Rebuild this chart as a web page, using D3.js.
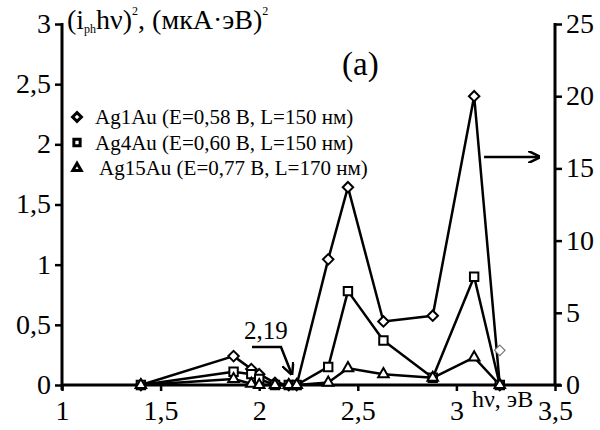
<!DOCTYPE html>
<html>
<head>
<meta charset="utf-8">
<script src="https://cdn.jsdelivr.net/npm/d3@7"></script>
<style>
  html, body { margin: 0; padding: 0; background: #fff; }
  svg { display: block; }
  text { font-family: "Liberation Serif", "Times New Roman", serif; fill: #000; }
</style>
</head>
<body>
<svg id="chart" width="600" height="430"></svg>
<script>
// Photon energy, eV (shared by all samples)
const energy = [1.40, 1.87, 1.96, 2.00, 2.08, 2.15, 2.19, 2.35, 2.45, 2.63, 2.88, 3.09, 3.22];

// Ag1Au, read on the right axis
const ag1Au = [0, 2.0, 1.1, 0.75, 0.15, 0, 0, 8.7, 13.7, 4.4, 4.8, 20.0, 0];
// Ag4Au and Ag15Au, read on the left axis
const ag4Au = [0, 0.11, 0.09, 0.05, 0, 0, 0, 0.15, 0.78, 0.37, 0.06, 0.90, 0];
const ag15Au = [0, 0.05, 0.01, 0, 0, 0, 0, 0.02, 0.14, 0.09, 0.06, 0.23, 0];
// lone Ag1Au marker at the high-energy end
const ag1AuExtra = [[3.22, 2.4]];

const legendLabels = [
  "Ag1Au (E=0,58 В, L=150 нм)",
  "Ag4Au (E=0,60 В, L=150 нм)",
  "Ag15Au (E=0,77 В, L=170 нм)"
];

const xTicks = [1, 1.5, 2, 2.5, 3, 3.5];
const yLeftTicks = [0, 0.5, 1, 1.5, 2, 2.5, 3];
const yRightTicks = [0, 5, 10, 15, 20, 25];

const svg = d3.select("#chart");
const mLeft = 62, mRight = 555, mTop = 24, mBottom = 385;

const x = d3.scaleLinear().domain([1, 3.5]).range([mLeft, mRight]);
const yL = d3.scaleLinear().domain([0, 3]).range([mBottom, mTop]);
const yR = d3.scaleLinear().domain([0, 25]).range([mBottom, mTop]);

const loc = d3.formatLocale({ decimal: ",", thousands: " ", grouping: [3], currency: ["", ""] });
const fmt = loc.format(".1~f");

function styleAxis(g, fontSize) {
  g.select(".domain").remove();
  g.selectAll(".tick line").attr("stroke", "#000").attr("stroke-width", 2.5);
  g.selectAll("text")
    .style("font-size", fontSize + "px")
    .style("font-family", '"Liberation Serif", serif');
}

// axis lines
svg.append("line").attr("x1", mLeft).attr("x2", mLeft).attr("y1", mTop - 1).attr("y2", mBottom + 5)
  .attr("stroke", "#000").attr("stroke-width", 3);
svg.append("line").attr("x1", mRight).attr("x2", mRight).attr("y1", mTop - 1).attr("y2", mBottom + 1)
  .attr("stroke", "#000").attr("stroke-width", 3);
svg.append("line").attr("x1", mLeft).attr("x2", mRight + 6).attr("y1", mBottom).attr("y2", mBottom)
  .attr("stroke", "#000").attr("stroke-width", 3);

const gx = svg.append("g").attr("transform", `translate(0,${mBottom})`)
  .call(d3.axisBottom(x).tickValues(xTicks).tickFormat(fmt).tickSize(6).tickPadding(6));
styleAxis(gx, 28);
gx.selectAll("text").attr("y", 35).attr("dy", null);

const gyl = svg.append("g").attr("transform", `translate(${mLeft},0)`)
  .call(d3.axisLeft(yL).tickValues(yLeftTicks).tickFormat(fmt).tickSize(7).tickPadding(4));
styleAxis(gyl, 28);
gyl.selectAll("text").attr("dy", "0.3em");

const gyr = svg.append("g").attr("transform", `translate(${mRight},0)`)
  .call(d3.axisRight(yR).tickValues(yRightTicks).tickFormat(fmt).tickSize(7).tickPadding(4));
styleAxis(gyr, 28);
gyr.selectAll("text").attr("dy", "0.3em");

// series
const series = [
  { name: "Ag1Au", y: yR, values: ag1Au, symbol: d3.symbolDiamond2, size: 70 },
  { name: "Ag4Au", y: yL, values: ag4Au, symbol: d3.symbolSquare2, size: 90 },
  { name: "Ag15Au", y: yL, values: ag15Au, symbol: d3.symbolTriangle2, size: 80 }
];

const line = d3.line();
series.forEach(s => {
  svg.append("path")
    .attr("d", line(energy.map((e, i) => [x(e), s.y(s.values[i])])))
    .attr("fill", "none").attr("stroke", "#000").attr("stroke-width", 2.5)
    .attr("stroke-linejoin", "round");
});

series.forEach(s => {
  svg.append("g").selectAll("path")
    .data(energy.map((e, i) => [e, s.values[i]]))
    .join("path")
    .attr("transform", d => `translate(${x(d[0])},${s.y(d[1])})`)
    .attr("d", d3.symbol(s.symbol, s.size))
    .attr("fill", "#fff").attr("stroke", "#000").attr("stroke-width", 2);
});

svg.append("g").selectAll("path")
  .data(ag1AuExtra).join("path")
  .attr("transform", d => `translate(${x(d[0])},${yR(d[1])})`)
  .attr("d", d3.symbol(d3.symbolDiamond2, 70))
  .attr("fill", "#fff").attr("stroke", "#777").attr("stroke-width", 1.2);

// legend
const legendSymbols = [d3.symbolDiamond2, d3.symbolSquare2, d3.symbolTriangle2];
legendLabels.forEach((lab, i) => {
  const ly = 117 + i * 25.5;
  svg.append("path")
    .attr("transform", `translate(77,${ly})`)
    .attr("d", d3.symbol(legendSymbols[i], 50))
    .attr("fill", "#fff").attr("stroke", "#000").attr("stroke-width", 3);
  svg.append("text")
    .attr("x", i === 2 ? 99 : 95).attr("y", ly + 7)
    .style("font-size", "21px")
    .text(lab);
});

// axis title
const title = svg.append("text")
  .attr("x", 67).attr("y", 29)
  .style("font-size", "28px");
title.append("tspan").text("(i");
title.append("tspan").attr("dy", 4).style("font-size", "12px").text("ph");
title.append("tspan").attr("dy", -4).text("hν)");
title.append("tspan").attr("dy", -14).style("font-size", "12px").text("2");
title.append("tspan").attr("dy", 14).text(", (мкА·эВ)");
title.append("tspan").attr("dy", -14).style("font-size", "12px").text("2");

svg.append("text")
  .attr("x", 342).attr("y", 75)
  .style("font-size", "33px").text("(a)");

svg.append("text")
  .attr("x", 472).attr("y", 407)
  .style("font-size", "24px").text("hν, эВ");

// annotation for 2,19 eV
svg.append("text")
  .attr("x", 244).attr("y", 339)
  .style("font-size", "25px").text("2,19");

svg.append("defs").append("marker")
  .attr("id", "arr").attr("viewBox", "0 0 10 10").attr("refX", 9).attr("refY", 5)
  .attr("markerWidth", 5).attr("markerHeight", 5).attr("orient", "auto-start-reverse")
  .append("path").attr("d", "M0,0 L10,5 L0,10").attr("fill", "none")
  .attr("stroke", "#000").attr("stroke-width", 2);

svg.append("path")
  .attr("d", d3.line()([[252, 347], [281, 347], [x(2.19) - 5, 374]]))
  .attr("fill", "none").attr("stroke", "#000").attr("stroke-width", 2.5)
  .attr("marker-end", "url(#arr)");

svg.append("path")
  .attr("d", d3.line()([[x(3.11) + 6, 157], [x(3.42), 157]]))
  .attr("fill", "none").attr("stroke", "#000").attr("stroke-width", 2.5)
  .attr("marker-end", "url(#arr)");
</script>
</body>
</html>
